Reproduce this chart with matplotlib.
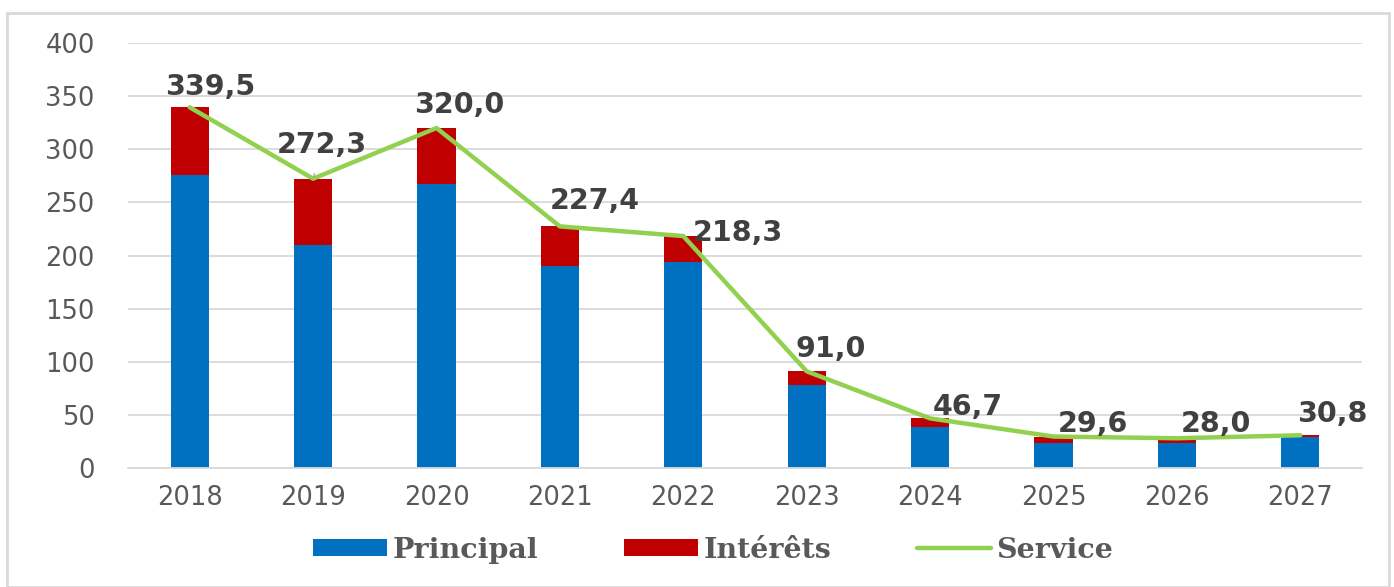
import matplotlib
matplotlib.use("Agg")
import matplotlib.pyplot as plt
from matplotlib.patches import Rectangle
import numpy as np

years = ["2018", "2019", "2020", "2021", "2022", "2023", "2024", "2025", "2026", "2027"]
service = [339.5, 272.3, 320.0, 227.4, 218.3, 91.0, 46.7, 29.6, 28.0, 30.8]
principal = [276.0, 210.0, 267.5, 190.5, 194.0, 78.0, 38.5, 23.5, 24.0, 29.3]
interets = [s - p for s, p in zip(service, principal)]
labels = ["339,5", "272,3", "320,0", "227,4", "218,3", "91,0", "46,7", "29,6", "28,0", "30,8"]
label_offsets = [(20, 20), (9, 34), (23, 23), (35, 25), (55, 3), (24, 22), (38, 11), (39, 13), (39, 14), (32, 21)]

BLUE = "#0070C0"
RED = "#C00000"
GREEN = "#92D050"
GRAY = "#595959"

fig = plt.figure(figsize=(13.94, 5.87), dpi=100)
fig.patches.append(Rectangle((7 / 1394, 0), 1382 / 1394, 1 - 13 / 587, transform=fig.transFigure,
                             fill=False, edgecolor="#D9D9D9", linewidth=2))
ax = fig.add_axes([128 / 1394, 1 - 468 / 587, 1234 / 1394, 425 / 587])

x = np.arange(len(years))
w = 0.31
b1 = ax.bar(x, principal, w, color=BLUE, label="Principal", zorder=2)
b2 = ax.bar(x, interets, w, bottom=principal, color=RED, label="Intérêts", zorder=2)
l1, = ax.plot(x, service, color=GREEN, lw=3.2, label="Service", zorder=3, solid_capstyle="round")

for i, (v, lab, off) in enumerate(zip(service, labels, label_offsets)):
    kw = {}
    if i == 1:
        kw["arrowprops"] = dict(arrowstyle="-", color="#A6A6A6", lw=0.9, shrinkA=9, shrinkB=1)
    ax.annotate(lab, (x[i], v), xytext=off, textcoords="offset pixels", ha="center", va="center",
                fontsize=20.5, fontweight="bold", color="#404040", zorder=4, **kw)

ax.set_xlim(-0.5, len(years) - 0.5)
ax.set_ylim(0, 400)
ax.set_yticks(range(0, 401, 50))
ax.set_xticks(x)
ax.set_xticklabels(years)
ax.grid(axis="y", color="#D9D9D9", lw=1.3, zorder=0)
ax.set_axisbelow(True)
for s in ["top", "right", "left"]:
    ax.spines[s].set_visible(False)
ax.spines["bottom"].set_color("#D9D9D9")
ax.spines["bottom"].set_linewidth(1.3)
ax.tick_params(axis="both", length=0, labelsize=18.5, labelcolor=GRAY)
ax.tick_params(axis="y", pad=24)
ax.tick_params(axis="x", pad=12)

leg = fig.legend([b1, b2, l1], ["Principal", "Intérêts", "Service"],
                 loc="center", bbox_to_anchor=(713 / 1394, 1 - 550 / 587), ncol=3, frameon=False,
                 prop=dict(family="DejaVu Serif", weight="bold", size=20.5),
                 handlelength=2.6, handleheight=0.5, handletextpad=0.2, columnspacing=3.0)
for t in leg.get_texts():
    t.set_color(GRAY)

fig.savefig("out.png", dpi=100)
